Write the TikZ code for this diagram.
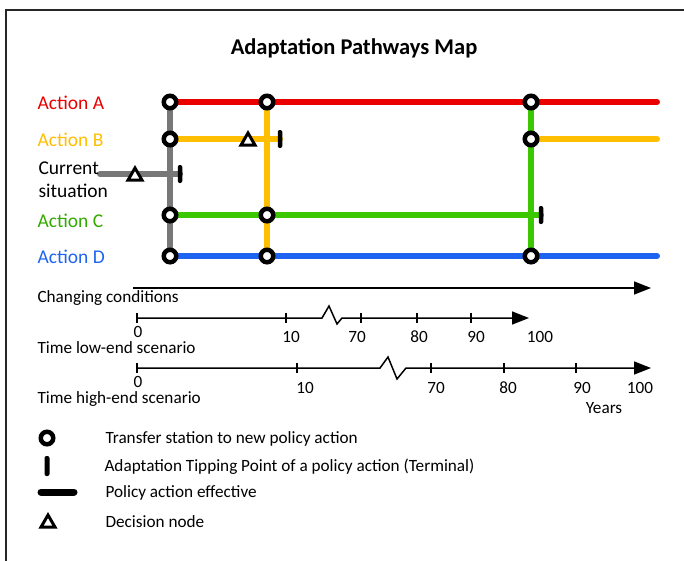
\documentclass[tikz,border=0pt]{standalone}
\usepackage{fontspec}
\setmainfont{Carlito}
\usetikzlibrary{arrows.meta,backgrounds,shapes.geometric}
\definecolor{redA}{RGB}{235,0,0}
\definecolor{yellowB}{RGB}{255,190,0}
\definecolor{greenC}{RGB}{60,200,0}
\definecolor{blueD}{RGB}{30,100,240}
\definecolor{grayS}{RGB}{120,120,120}
\begin{document}
\begin{tikzpicture}[x=1pt,y=-1pt,>={Triangle[length=17pt,width=13pt]},
    stn/.style={circle,draw=black,line width=4.5pt,fill=white,inner sep=0pt,minimum size=12.5pt},
    tipbar/.style={rectangle,fill=black,rounded corners=2pt,inner sep=0pt,minimum width=4.5pt,minimum height=18pt},
    decision/.style={regular polygon,regular polygon sides=3,draw=black,line width=3pt,fill=white,inner sep=0pt,minimum size=16pt},
    route/.style={line width=6pt,line cap=round},
    axis/.style={line width=1.5pt},
    actlbl/.style={anchor=west,font=\fontsize{19.5}{23}\selectfont},
    txt/.style={anchor=west,font=\fontsize{17.2}{20}\selectfont},
    num/.style={font=\fontsize{17.2}{20}\selectfont}]
    \useasboundingbox (0,0) rectangle (684,560);
    \draw[line width=2.5pt,black!85] (6,570) -- (6,10) -- (690,10);
    \node[font=\bfseries\fontsize{22.5}{26}\selectfont] (title) at (354,48) {Adaptation Pathways Map};
    \node[actlbl,redA] (labA) at (34,103) {Action A};
    \node[actlbl,yellowB] (labB) at (34,140) {Action B};
    \node[actlbl,align=left,font=\fontsize{19.5}{23}\selectfont] (labS) at (35,180) {Current\\situation};
    \node[actlbl,greenC!85!black] (labC) at (34,221) {Action C};
    \node[actlbl,blueD] (labD) at (34,257) {Action D};
    \node[stn] (a1) at (170,102) {};
    \node[stn] (a2) at (267,102) {};
    \node[stn] (a3) at (531,102) {};
    \node[stn] (b1) at (170,139) {};
    \node[stn] (b3) at (531,139) {};
    \node[stn] (c1) at (170,215) {};
    \node[stn] (c2) at (267,215) {};
    \node[stn] (d1) at (170,256) {};
    \node[stn] (d2) at (267,256) {};
    \node[stn] (d3) at (531,256) {};
    \node[tipbar] (tb) at (280,139) {};
    \node[tipbar] (ts) at (180,174) {};
    \node[tipbar] (tc) at (541,215) {};
    \node[decision] (db) at (248,141) {};
    \node[decision] (ds) at (135,176) {};
    \coordinate (ea) at (657,102);
    \coordinate (eb) at (657,139);
    \coordinate (ed) at (657,256);
    \coordinate (es) at (100,174);
    \begin{scope}[on background layer]
        \draw[route,grayS] (es) -- (ts.center);
        \draw[route,grayS] (a1.center) -- (d1.center);
        \draw[route,yellowB] (a2.center) -- (d2.center);
        \draw[route,yellowB] (b1.center) -- (tb.center);
        \draw[route,yellowB] (b3.center) -- (eb);
        \draw[route,greenC] (a3.center) -- (d3.center);
        \draw[route,greenC] (c1.center) -- (tc.center);
        \draw[route,redA] (a1.center) -- (ea);
        \draw[route,blueD] (d1.center) -- (ed);
    \end{scope}
    \coordinate (cc0) at (133,288);
    \coordinate (cc1) at (651,288);
    \draw[axis,->] (cc0) -- (cc1);
    \node[txt] (labcc) at (34,298) {Changing conditions};
    \coordinate (lo0) at (137,318);
    \coordinate (lo1) at (529,318);
    \draw[axis,->] (lo0) -- (322,318) -- (329,306) -- (337,324) -- (342,318) -- (lo1);
    \foreach \x in {137,286,361,417,471}
        \draw[axis] (\x,313) -- (\x,323);
    \node[num] (lo0lbl) at (138,332) {0};
    \foreach \x/\t in {291/10,357/70,419/80,476/90,540/100}
        \node[num] (lo\t) at (\x,337) {\t};
    \node[txt] (lablo) at (34,348) {Time low-end scenario};
    \coordinate (hi0) at (137,368);
    \coordinate (hi1) at (651,368);
    \draw[axis,->] (hi0) -- (380,368) -- (388,357) -- (397,379) -- (406,368) -- (hi1);
    \foreach \x in {137,297,431,504,576}
        \draw[axis] (\x,363) -- (\x,373);
    \node[num] (hi0lbl) at (138,382) {0};
    \foreach \x/\t in {305/10,436/70,508/80,582/90,640/100}
        \node[num] (hi\t) at (\x,388) {\t};
    \node[txt] (labhi) at (34,399) {Time high-end scenario};
    \node[num] (years) at (604,408) {Years};
    \node[stn] (lg1) at (47,438) {};
    \node[tipbar,minimum height=20pt,minimum width=5pt] (lg2) at (47,466) {};
    \coordinate (lg3a) at (41,492);
    \coordinate (lg3b) at (74,492);
    \draw[line width=7pt,line cap=round] (lg3a) -- (lg3b);
    \node[decision] (lg4) at (48,523) {};
    \node[txt] (lt1) at (102,439) {Transfer station to new policy action};
    \node[txt] (lt2) at (101,467) {Adaptation Tipping Point of a policy action (Terminal)};
    \node[txt] (lt3) at (102,493) {Policy action effective};
    \node[txt] (lt4) at (102,522) {Decision node};
\end{tikzpicture}
\end{document}
